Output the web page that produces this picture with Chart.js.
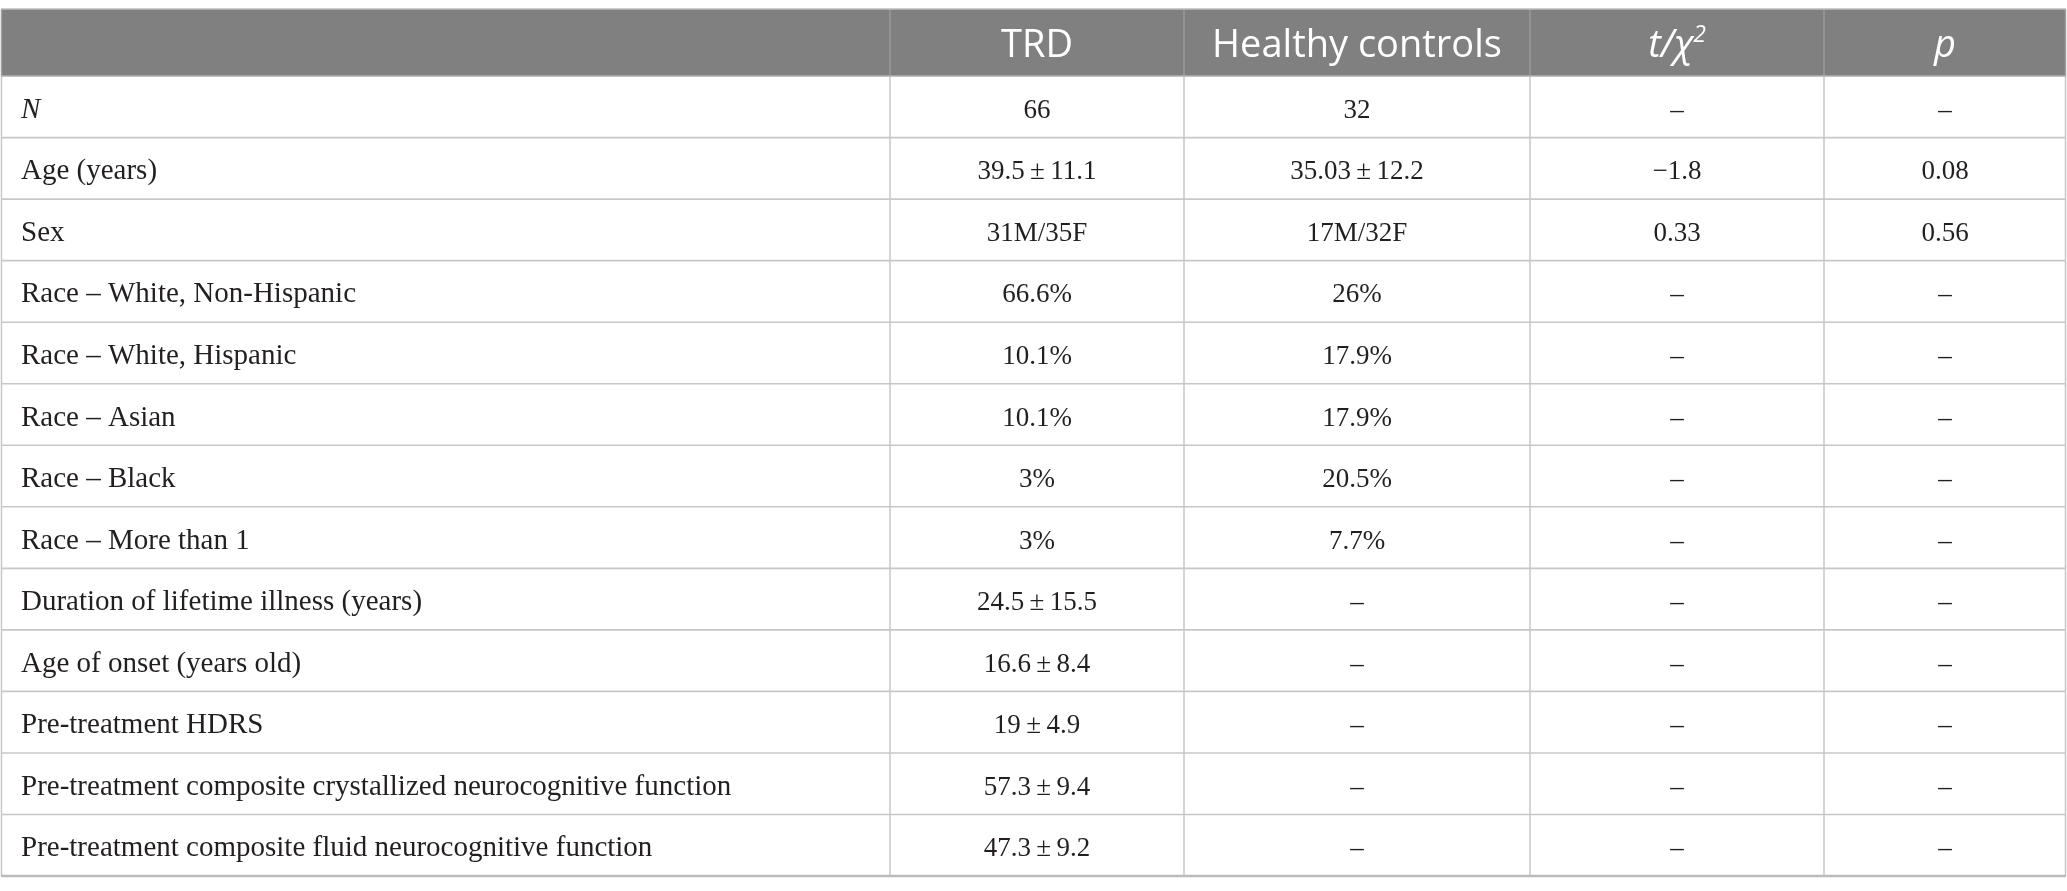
<!DOCTYPE html>
<html><head><meta charset="utf-8">
<script src="https://cdn.jsdelivr.net/npm/chart.js@4.4.1/dist/chart.umd.min.js"></script>
<style>html,body{margin:0;padding:0;background:#fff;overflow:hidden}#wrap{width:2067px;height:891px;position:relative}</style>
</head><body><div id="wrap"><canvas id="c"></canvas></div>
<script>
// ---- data ----
const columnHeaders = ['', 'TRD', 'Healthy controls', 't/χ²', 'p'];
const rowLabels = [
  'N',
  'Age (years)',
  'Sex',
  'Race – White, Non-Hispanic',
  'Race – White, Hispanic',
  'Race – Asian',
  'Race – Black',
  'Race – More than 1',
  'Duration of lifetime illness (years)',
  'Age of onset (years old)',
  'Pre-treatment HDRS',
  'Pre-treatment composite crystallized neurocognitive function',
  'Pre-treatment composite fluid neurocognitive function'
];
const trdValues = ['66', '39.5\u2009±\u200911.1', '31M/35F', '66.6%', '10.1%', '10.1%', '3%', '3%',
  '24.5\u2009±\u200915.5', '16.6\u2009±\u20098.4', '19\u2009±\u20094.9', '57.3\u2009±\u20099.4', '47.3\u2009±\u20099.2'];
const controlValues = ['32', '35.03\u2009±\u200912.2', '17M/32F', '26%', '17.9%', '17.9%', '20.5%', '7.7%',
  '–', '–', '–', '–', '–'];
const statValues = ['–', '−1.8', '0.33', '–', '–', '–', '–', '–', '–', '–', '–', '–', '–'];
const pValues = ['–', '0.08', '0.56', '–', '–', '–', '–', '–', '–', '–', '–', '–', '–'];

// ---- layout / style constants ----
const X_MAX = 2065;
const COL_EDGES = [0, 889, 1183, 1529, 1823, 2065];
const HEADER_UNITS = 1.09;
const Y_MAX = HEADER_UNITS + rowLabels.length;
const HEADER_BG = '#808080';
const LINE = '#c7c7c7';
const BODY_FONT = '"Liberation Serif", "DejaVu Serif", serif';
const HEAD_FONT = '"Open Sans", "Noto Sans", sans-serif';
const LABEL_SIZE = 29;
const VALUE_SIZE = 27;
const HEAD_SIZE = 38;
const BODY_COLOR = '#231f20';

const columnsData = [rowLabels, trdValues, controlValues, statValues, pValues];

const tablePlugin = {
  id: 'tablePlugin',
  afterDraw(chart) {
    const ctx = chart.ctx;
    const xs = chart.scales.x, ys = chart.scales.y;
    const X = v => xs.getPixelForValue(v);
    const Y = v => ys.getPixelForValue(v);
    const left = X(0), right = X(X_MAX);
    const top = Y(0), hb = Y(HEADER_UNITS), bottom = Y(Y_MAX);
    ctx.save();
    ctx.fillStyle = HEADER_BG;
    ctx.fillRect(left, top, right - left, hb - top);

    function hline(y, color, w, x0, x1) {
      ctx.beginPath(); ctx.strokeStyle = color; ctx.lineWidth = w;
      ctx.moveTo(x0, y); ctx.lineTo(x1, y); ctx.stroke();
    }
    function vline(x, color, w, y0, y1) {
      ctx.beginPath(); ctx.strokeStyle = color; ctx.lineWidth = w;
      ctx.moveTo(x, y0); ctx.lineTo(x, y1); ctx.stroke();
    }
    for (let i = 1; i < rowLabels.length; i++) {
      hline(Y(HEADER_UNITS + i), LINE, 1.6, left, right);
    }
    for (let c = 1; c < COL_EDGES.length - 1; c++) {
      vline(X(COL_EDGES[c]), LINE, 1.5, hb, bottom);
      vline(X(COL_EDGES[c]), '#9a9a9a', 1.5, top, hb);
    }
    vline(left + 0.5, LINE, 1.5, hb, bottom);
    vline(right - 0.5, LINE, 1.5, hb, bottom);
    vline(left + 0.5, '#a0a0a0', 1.5, top, hb);
    vline(right - 0.5, '#a0a0a0', 1.5, top, hb);
    hline(top, '#bdbdbd', 1.6, left, right);
    hline(hb, '#b0b0b0', 1.6, left, right);
    hline(bottom, '#bababa', 2.4, left, right);

    // header text
    ctx.fillStyle = '#ffffff';
    ctx.textBaseline = 'alphabetic';
    ctx.textAlign = 'center';
    const hy = (top + hb) / 2 + 14;
    for (let c = 1; c < columnHeaders.length; c++) {
      const cx = (X(COL_EDGES[c]) + X(COL_EDGES[c + 1])) / 2;
      const label = columnHeaders[c];
      if (label === 't/χ²') {
        ctx.font = 'italic ' + HEAD_SIZE + 'px ' + HEAD_FONT;
        const main = 't/χ';
        const supSize = Math.round(HEAD_SIZE * 0.6);
        const mw = ctx.measureText(main).width;
        ctx.font = 'italic ' + supSize + 'px ' + HEAD_FONT;
        const sw = ctx.measureText('2').width;
        const start = cx - (mw + sw) / 2;
        ctx.textAlign = 'left';
        ctx.font = 'italic ' + HEAD_SIZE + 'px ' + HEAD_FONT;
        ctx.fillText(main, start, hy);
        ctx.font = 'italic ' + supSize + 'px ' + HEAD_FONT;
        ctx.fillText('2', start + mw, hy - HEAD_SIZE * 0.38);
        ctx.textAlign = 'center';
      } else if (label === 'p') {
        ctx.font = 'italic ' + HEAD_SIZE + 'px ' + HEAD_FONT;
        ctx.fillText(label, cx, hy);
      } else {
        ctx.font = HEAD_SIZE + 'px ' + HEAD_FONT;
        ctx.fillText(label, cx, hy);
      }
    }

    // body text
    ctx.fillStyle = BODY_COLOR;
    for (let r = 0; r < rowLabels.length; r++) {
      const cy = (Y(HEADER_UNITS + r) + Y(HEADER_UNITS + r + 1)) / 2 + 11;
      for (let c = 0; c < columnsData.length; c++) {
        const txt = columnsData[c][r];
        if (c === 0) {
          ctx.textAlign = 'left';
          ctx.font = (txt === 'N' ? 'italic ' : '') + LABEL_SIZE + 'px ' + BODY_FONT;
          ctx.fillText(txt, X(COL_EDGES[0]) + 20, cy);
        } else {
          ctx.textAlign = 'center';
          ctx.font = VALUE_SIZE + 'px ' + BODY_FONT;
          const cx = (X(COL_EDGES[c]) + X(COL_EDGES[c + 1])) / 2;
          ctx.fillText(txt, cx, cy);
        }
      }
    }
    ctx.restore();
  }
};

new Chart(document.getElementById('c'), {
  type: 'scatter',
  data: { datasets: [{ data: [], showLine: false }] },
  options: {
    responsive: true,
    maintainAspectRatio: false,
    animation: false,
    events: [],
    layout: { padding: { left: 1, right: 1, top: 9, bottom: 15 } },
    plugins: { legend: { display: false }, tooltip: { enabled: false } },
    scales: {
      x: { type: 'linear', min: 0, max: X_MAX, display: false },
      y: { type: 'linear', min: 0, max: Y_MAX, reverse: true, display: false }
    }
  },
  plugins: [tablePlugin]
});
</script>
</body></html>
